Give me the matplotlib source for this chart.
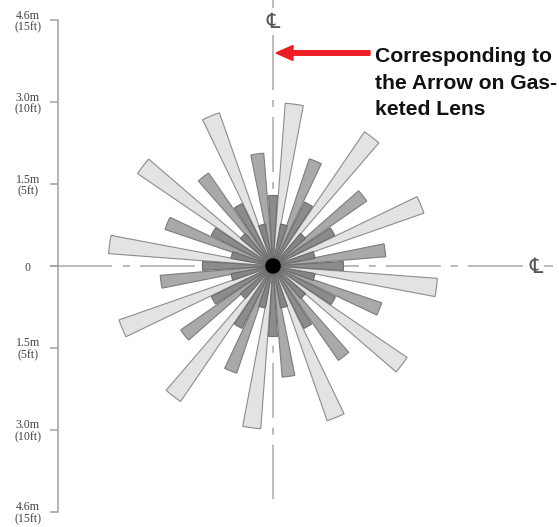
import matplotlib
matplotlib.use('Agg')
import matplotlib.pyplot as plt
from matplotlib.patches import Wedge, Circle, FancyArrow

plt.rcParams['lines.scale_dashes'] = False

# ---------------- data (feet, degrees) ----------------
light_angles = [82.5, 52.5, 22.5, -7.5, -37.5, -67.5, 262.5, 232.5, 202.5, 172.5, 142.5, 112.5]
light_radii = [9.95, 9.9, 9.75, 10.05, 9.9, 10.0, 9.95, 10.0, 9.95, 10.05, 10.0, 9.9]

medium_angles = [98.0, 68.0, 38.0, 8.0, -22.0, -52.0, -82.0, 248.0, 218.0, 188.0, 158.0, 128.0]
medium_radii = [6.9, 6.9, 6.95, 6.9, 7.0, 7.0, 6.8, 6.9, 6.85, 6.9, 6.95, 6.9]

dark_angles = [90, 60, 30, 0, -30, -60, -90, 240, 210, 180, 150, 120]
dark_radii = [4.3, 4.35, 4.2, 4.3, 4.25, 4.25, 4.3, 4.25, 4.2, 4.3, 4.2, 4.25]

darker_angles = [105, 75, 45, 15, -15, -45, -75, 255, 225, 195, 165, 135]
darker_radii = [2.6, 2.6, 2.6, 2.6, 2.6, 2.6, 2.6, 2.6, 2.6, 2.6, 2.6, 2.6]

tick_values = [-15, -10, -5, 0, 5, 10, 15]
tick_labels = ['4.6m\n(15ft)', '3.0m\n(10ft)', '1.5m\n(5ft)', '0',
               '1.5m\n(5ft)', '3.0m\n(10ft)', '4.6m\n(15ft)']
note_text = 'Corresponding to\nthe Arrow on Gas-\nketed Lens'
cl_symbol = '\u2104'

# ---------------- layout ----------------
W, H = 559, 527
CX, CY, PX = 273.0, 266.0, 16.4  # centre pixel, pixels per foot


def fx(px):
    return (px - CX) / PX


def fy(py):
    return (CY - py) / PX


fig = plt.figure(figsize=(W / 100, H / 100), dpi=100)
ax = fig.add_axes([0, 0, 1, 1])
ax.set_xlim(fx(0), fx(W))
ax.set_ylim(fy(H), fy(0))
ax.set_facecolor('white')

line_col = '#a8a8a8'
lw = 1.1
dash_long, dash_gap, dash_short = 39.6, 7.2, 5.0

# horizontal centre line
ax.plot([fx(50), fx(112)], [0, 0], color=line_col, lw=lw, zorder=1, solid_capstyle='butt')
ax.plot([fx(123), fx(525)], [0, 0], color=line_col, lw=lw, zorder=1,
        linestyle=(0, (dash_short, dash_gap, dash_long, dash_gap)))
ax.plot([fx(544), fx(553)], [0, 0], color=line_col, lw=lw, zorder=1, solid_capstyle='butt')
ax.text(fx(536), fy(267), cl_symbol, ha='center', va='center', fontsize=15,
        color='#555555', family=['DejaVu Sans'])

# vertical centre line
ax.plot([0, 0], [fy(0), fy(8)], color=line_col, lw=lw, zorder=1, solid_capstyle='butt')
ax.plot([0, 0], [fy(35), fy(499)], color=line_col, lw=lw, zorder=1,
        linestyle=(0, (dash_long, dash_gap, dash_short, dash_gap)))
ax.text(0, fy(22), cl_symbol, ha='center', va='center', fontsize=15,
        color='#555555', family=['DejaVu Sans'])

# left scale (spine with ticks)
for s in ['top', 'right', 'bottom']:
    ax.spines[s].set_visible(False)
ax.spines['left'].set_position(('data', fx(58)))
ax.spines['left'].set_bounds(-15, 15)
ax.spines['left'].set_color('#a0a0a0')
ax.spines['left'].set_linewidth(lw)
ax.set_xticks([])
ax.set_yticks(tick_values, tick_labels)
ax.tick_params(axis='y', direction='out', length=5.8, width=lw, color='#a0a0a0',
               labelsize=8.6, labelcolor='#444444', pad=16.0,
               labelfontfamily='Liberation Serif')
for lbl in ax.get_yticklabels():
    lbl.set_horizontalalignment('center')
    lbl.set_linespacing(0.95)

# wedges
def draw_group(angles, radii, half_w, face, edge, z):
    for a, r in zip(angles, radii):
        ax.add_patch(Wedge((0, 0), r, a - half_w, a + half_w, facecolor=face,
                           edgecolor=edge, linewidth=0.8, zorder=z))

draw_group(light_angles, light_radii, 3.2, '#e3e3e3', '#8c8c8c', 2)
draw_group(medium_angles, medium_radii, 3.3, '#a9a9a9', '#7c7c7c', 3)
draw_group(dark_angles, dark_radii, 3.6, '#8c8c8c', '#6e6e6e', 4)
draw_group(darker_angles, darker_radii, 4.8, '#858585', '#6a6a6a', 5)

ax.add_patch(Circle((0, 0), 0.43, facecolor='black', edgecolor='black', zorder=6))

# red arrow + note
x0, x1, ya = fx(370), fx(276), fy(53)
ax.add_patch(FancyArrow(x0, ya, x1 - x0, 0, width=4.5 / PX, head_width=15 / PX,
                        head_length=17 / PX, length_includes_head=True,
                        color='#ee1c24', zorder=7))
ax.text(fx(375), fy(47), note_text, ha='left', va='top', fontsize=15.2,
        fontweight='bold', family='Liberation Sans', color='#111111',
        linespacing=1.5)

fig.savefig('out.png', dpi=100)
